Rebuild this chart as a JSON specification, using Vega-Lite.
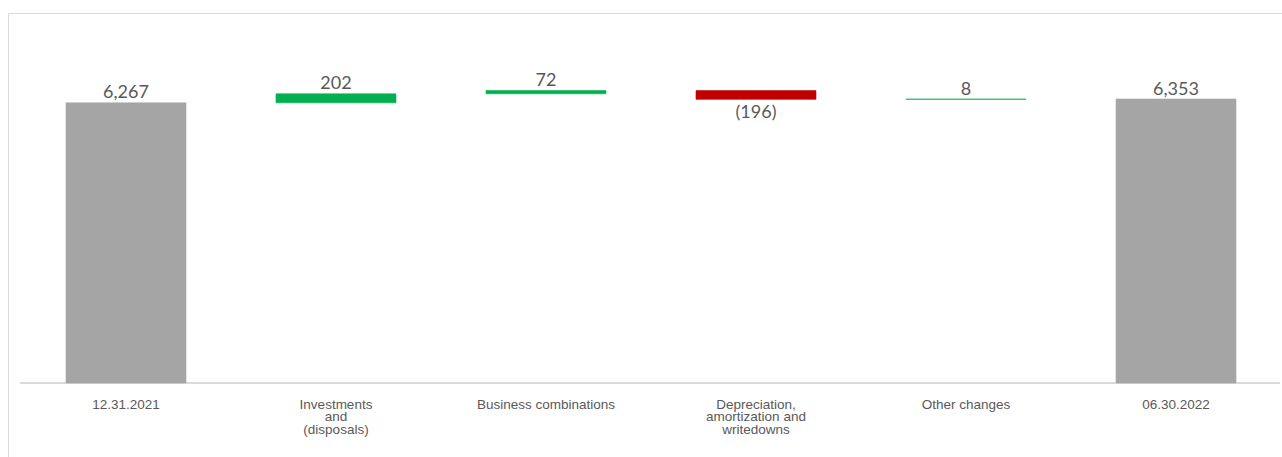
{
  "$schema": "https://vega.github.io/schema/vega-lite/v6.json",
  "width": 1286,
  "height": 460,
  "autosize": {"type": "none"},
  "padding": {"left": 8, "top": 13, "right": 0, "bottom": 0},
  "background": "white",
  "config": {"view": {"stroke": "#d9d9d9", "strokeWidth": 1}},
  "data": {
    "values": [
      {"step": "12.31.2021", "start": 0, "end": 6267, "label": "6,267", "kind": "total"},
      {"step": "Investments and (disposals)", "start": 6267, "end": 6469, "label": "202", "kind": "increase"},
      {"step": "Business combinations", "start": 6469, "end": 6541, "label": "72", "kind": "increase"},
      {"step": "Depreciation, amortization and writedowns", "start": 6541, "end": 6345, "label": "(196)", "kind": "decrease"},
      {"step": "Other changes", "start": 6345, "end": 6353, "label": "8", "kind": "increase"},
      {"step": "06.30.2022", "start": 0, "end": 6353, "label": "6,353", "kind": "total"}
    ]
  },
  "resolve": {"scale": {"x": "independent"}, "axis": {"x": "independent"}},
  "layer": [
    {
      "mark": {"type": "rule", "color": "#d9d9d9", "strokeWidth": 1.2},
      "encoding": {
        "x": {"datum": 0, "type": "quantitative", "scale": {"domain": [-0.009524, 1.01111], "nice": false, "zero": false}, "axis": null},
        "x2": {"datum": 1},
        "y": {"datum": 0, "type": "quantitative", "scale": {"domain": [-2013, 8277], "nice": false, "zero": false}, "axis": null}
      }
    },
    {
      "layer": [
        {
          "mark": {"type": "bar", "strokeWidth": 0.6},
          "encoding": {
            "y": {"field": "start", "type": "quantitative", "scale": {"domain": [-2013, 8277], "nice": false, "zero": false}, "axis": null},
            "y2": {"field": "end"},
            "color": {
              "field": "kind",
              "type": "nominal",
              "scale": {"domain": ["total", "increase", "decrease"], "range": ["#a5a5a5", "#00b050", "#c00000"]},
              "legend": null
            },
            "stroke": {
              "field": "kind",
              "type": "nominal",
              "scale": {"domain": ["total", "increase", "decrease"], "range": ["#a5a5a5", "#00b050", "#c00000"]},
              "legend": null
            }
          }
        },
        {
          "transform": [{"filter": "datum.kind != 'decrease'"}],
          "mark": {"type": "text", "baseline": "alphabetic", "align": "center", "dy": -4.5, "font": "Lato", "fontSize": 18, "color": "#595959"},
          "encoding": {
            "y": {"field": "end", "type": "quantitative"},
            "text": {"field": "label"}
          }
        },
        {
          "transform": [{"filter": "datum.kind == 'decrease'"}],
          "mark": {"type": "text", "baseline": "alphabetic", "align": "center", "dy": 18.3, "font": "Lato", "fontSize": 18, "color": "#595959"},
          "encoding": {
            "y": {"field": "end", "type": "quantitative"},
            "text": {"field": "label"}
          }
        }
      ],
      "encoding": {
        "x": {
          "field": "step",
          "type": "nominal",
          "sort": null,
          "scale": {"paddingInner": 0.4286, "paddingOuter": 0.2762},
          "axis": {
            "title": null,
            "orient": "bottom",
            "offset": -90,
            "domain": false,
            "ticks": false,
            "tickSize": 0,
            "labelPadding": 14,
            "labelFont": "Liberation Sans",
            "labelFontSize": 13.5,
            "labelColor": "#595959",
            "labelLineHeight": 12.5,
            "labelAngle": 0,
            "labelAlign": "center",
            "labelBaseline": "top",
            "labelLimit": 400,
            "labelOverlap": false,
            "labelExpr": "datum.label == 'Investments and (disposals)' ? ['Investments', 'and', '(disposals)'] : datum.label == 'Depreciation, amortization and writedowns' ? ['Depreciation,', 'amortization and', 'writedowns'] : datum.label"
          }
        }
      }
    }
  ]
}
